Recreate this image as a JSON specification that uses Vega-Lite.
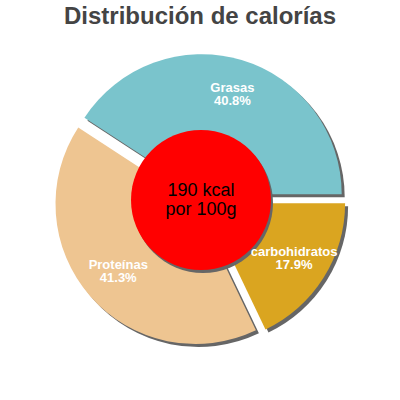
{
  "$schema": "https://vega.github.io/schema/vega-lite/v6.json",
  "width": 400,
  "height": 320,
  "autosize": {"type": "none"},
  "padding": {"left": 0, "right": 0, "top": 40, "bottom": 40},
  "background": "white",
  "title": {
    "text": "Distribución de calorías",
    "font": "Liberation Sans",
    "fontSize": 24,
    "fontWeight": "bold",
    "color": "#444444",
    "anchor": "middle",
    "offset": -8,
    "baseline": "alphabetic"
  },
  "config": {"view": {"stroke": null}},
  "data": {
    "values": [
      {"name": "Grasas", "pct": 40.8, "orden": 1},
      {"name": "carbohidratos", "pct": 17.9, "orden": 2},
      {"name": "Proteínas", "pct": 41.3, "orden": 3}
    ]
  },
  "transform": [
    {"stack": "pct", "groupby": [], "sort": [{"field": "orden"}], "as": ["start", "end"]}
  ],
  "layer": [
    {
      "transform": [{"filter": "datum.name === 'Grasas'"}],
      "mark": {"type": "arc", "radius": 140, "color": "#666666", "xOffset": 4.7, "yOffset": -2.7},
      "encoding": {
        "theta": {"field": "start", "type": "quantitative", "scale": {"domain": [0, 100], "range": [-0.9927, 5.2905]}},
        "theta2": {"field": "end"}
      }
    },
    {
      "transform": [{"filter": "datum.name === 'carbohidratos'"}],
      "mark": {"type": "arc", "radius": 140, "color": "#666666", "xOffset": 8.1, "yOffset": 6.2},
      "encoding": {
        "theta": {"field": "start", "type": "quantitative"},
        "theta2": {"field": "end"}
      }
    },
    {
      "transform": [{"filter": "datum.name === 'Proteínas'"}],
      "mark": {"type": "arc", "radius": 140, "color": "#666666", "xOffset": -1.5, "yOffset": 7},
      "encoding": {
        "theta": {"field": "start", "type": "quantitative"},
        "theta2": {"field": "end"}
      }
    },
    {
      "transform": [{"filter": "datum.name === 'Grasas'"}],
      "mark": {"type": "arc", "radius": 140, "color": "#7AC4CC", "xOffset": 1.7, "yOffset": -5.7},
      "encoding": {
        "theta": {"field": "start", "type": "quantitative"},
        "theta2": {"field": "end"}
      }
    },
    {
      "transform": [{"filter": "datum.name === 'carbohidratos'"}],
      "mark": {"type": "arc", "radius": 140, "color": "#DAA520", "xOffset": 5.1, "yOffset": 3.2},
      "encoding": {
        "theta": {"field": "start", "type": "quantitative"},
        "theta2": {"field": "end"}
      }
    },
    {
      "transform": [{"filter": "datum.name === 'Proteínas'"}],
      "mark": {"type": "arc", "radius": 140, "color": "#EEC591", "xOffset": -4.5, "yOffset": 4},
      "encoding": {
        "theta": {"field": "start", "type": "quantitative"},
        "theta2": {"field": "end"}
      }
    },
    {
      "data": {"values": [{"kcal": 190}]},
      "mark": {"type": "arc", "radius": 70, "theta": 0, "theta2": 6.2832, "color": "#666666", "xOffset": 3, "yOffset": 3},
      "encoding": {}
    },
    {
      "data": {"values": [{"kcal": 190}]},
      "mark": {"type": "arc", "radius": 70, "theta": 0, "theta2": 6.2832, "color": "#FF0000", "xOffset": 1, "yOffset": 0},
      "encoding": {}
    },
    {
      "transform": [{"calculate": "datum.name + '\\n' + format(datum.pct, '.1f') + '%'", "as": "label"}],
      "mark": {"type": "text", "radius": 110, "font": "Liberation Sans", "fontSize": 13, "fontWeight": "bold", "color": "white", "align": "center", "baseline": "middle", "lineBreak": "\n", "lineHeight": 13, "xOffset": 1, "dy": -7},
      "encoding": {
        "theta": {"field": "pct", "type": "quantitative", "stack": true},
        "order": {"field": "orden", "type": "quantitative"},
        "text": {"field": "label"}
      }
    },
    {
      "data": {"values": [{"t": "190 kcal\npor 100g"}]},
      "mark": {"type": "text", "font": "Liberation Sans", "fontSize": 18, "color": "black", "align": "center", "baseline": "middle", "lineBreak": "\n", "lineHeight": 19, "xOffset": 1, "dy": -9},
      "encoding": {"text": {"field": "t"}}
    }
  ]
}
